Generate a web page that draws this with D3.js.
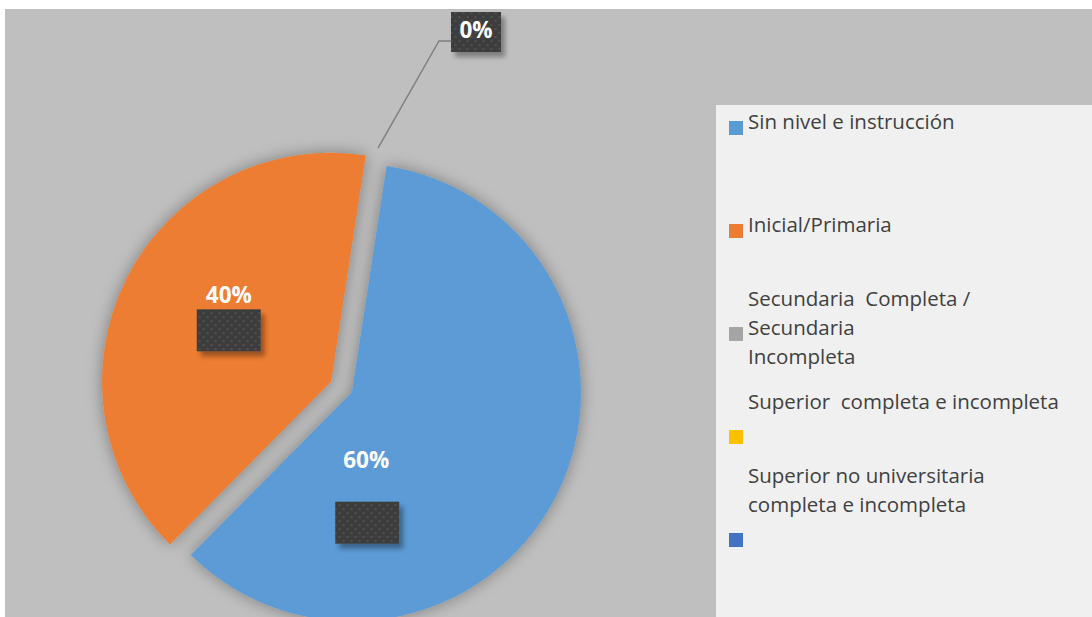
<!DOCTYPE html>
<html>
<head>
<meta charset="utf-8">
<script src="https://cdn.jsdelivr.net/npm/d3@7"></script>
<style>
  html, body { margin: 0; padding: 0; background: #ffffff; }
  svg { display: block; }
</style>
</head>
<body>
<svg id="chart" width="1092" height="617"></svg>
<script>
const categories = [
    "Sin nivel e instrucción",
    "Inicial/Primaria",
    "Secundaria  Completa / Secundaria Incompleta",
    "Superior  completa e incompleta",
    "Superior no universitaria completa e incompleta"
];
const values = [60, 40, 0, 0, 0];
const colors = ["#5b9bd5", "#ed7d31", "#a5a5a5", "#ffc000", "#4472c4"];

// how the legend text wraps, as in the original
const legendLines = [
    ["Sin nivel e instrucción"],
    ["Inicial/Primaria"],
    ["Secundaria  Completa /", "Secundaria", "Incompleta"],
    ["Superior  completa e incompleta", ""],
    ["Superior no universitaria", "completa e incompleta", ""]
];
// which wrapped line sits beside the colour square
const legendAnchor = [0, 0, 1, 1, 2];

const svg = d3.select("#chart");
const width = +svg.attr("width");
const height = +svg.attr("height");

const defs = svg.append("defs");

const shadow = defs.append("filter").attr("id", "pieShadow")
    .attr("x", "-20%").attr("y", "-20%").attr("width", "140%").attr("height", "140%");
shadow.append("feGaussianBlur").attr("in", "SourceAlpha").attr("stdDeviation", 8).attr("result", "blur");
shadow.append("feFlood").attr("flood-color", "#000").attr("flood-opacity", 0.35);
shadow.append("feComposite").attr("in2", "blur").attr("operator", "in").attr("result", "sh");
const m1 = shadow.append("feMerge");
m1.append("feMergeNode").attr("in", "sh");
m1.append("feMergeNode").attr("in", "SourceGraphic");

const boxShadow = defs.append("filter").attr("id", "boxShadow")
    .attr("x", "-30%").attr("y", "-30%").attr("width", "170%").attr("height", "170%");
boxShadow.append("feGaussianBlur").attr("in", "SourceAlpha").attr("stdDeviation", 2.5).attr("result", "blur");
boxShadow.append("feOffset").attr("in", "blur").attr("dx", 4).attr("dy", 5).attr("result", "off");
boxShadow.append("feFlood").attr("flood-color", "#000").attr("flood-opacity", 0.35);
boxShadow.append("feComposite").attr("in2", "off").attr("operator", "in").attr("result", "sh");
const m2 = boxShadow.append("feMerge");
m2.append("feMergeNode").attr("in", "sh");
m2.append("feMergeNode").attr("in", "SourceGraphic");

const dots = defs.append("pattern").attr("id", "dots")
    .attr("patternUnits", "userSpaceOnUse").attr("width", 8).attr("height", 8);
dots.append("rect").attr("width", 8).attr("height", 8).attr("fill", "#3e3e3e");
dots.append("circle").attr("cx", 2).attr("cy", 2).attr("r", 0.9).attr("fill", "#575757");
dots.append("circle").attr("cx", 6).attr("cy", 6).attr("r", 0.9).attr("fill", "#575757");

// chart area and legend panel
svg.append("rect").attr("x", 5).attr("y", 9)
    .attr("width", width - 5).attr("height", height - 9).attr("fill", "#bfbfbf");
svg.append("rect").attr("x", 716).attr("y", 105)
    .attr("width", width - 716).attr("height", height - 105).attr("fill", "#f0f0f0");

// pie
const cx = 341.5, cy = 387, radius = 229, explode = 11.7;
const rotation = 8.7 * Math.PI / 180;
const total = d3.sum(values);
const fmt = d3.format(".0%");

const pie = d3.pie().sort(null).value(d => d)
    .startAngle(rotation).endAngle(rotation + 2 * Math.PI);
const arcs = pie(values);
const arc = d3.arc().innerRadius(0).outerRadius(radius);

function offsetOf(d) {
    if (d.value === 0) return [0, 0];
    const mid = (d.startAngle + d.endAngle) / 2;
    return [explode * Math.sin(mid), -explode * Math.cos(mid)];
}

const pieG = svg.append("g").attr("transform", `translate(${cx},${cy})`);

pieG.append("g").attr("filter", "url(#pieShadow)")
    .selectAll("path")
    .data(arcs.filter(d => d.value > 0))
    .enter().append("path")
    .attr("transform", d => `translate(${offsetOf(d)})`)
    .attr("d", arc)
    .attr("fill", d => colors[d.index]);

// data labels: box and text shifts from the slice centroid (labels were moved by hand)
const boxShift = { 0: [-87, 79], 1: [0, 0] };
const textShift = { 0: [-88, 24], 1: [0, -27] };

const labelFont = 22.5;
const labelG = pieG.append("g");
arcs.filter(d => d.value > 0).forEach(d => {
    const o = offsetOf(d);
    const c = arc.centroid(d);
    const bx = c[0] + o[0] + boxShift[d.index][0];
    const by = c[1] + o[1] + boxShift[d.index][1];
    labelG.append("rect")
        .attr("x", bx - 32).attr("y", by - 21)
        .attr("width", 64).attr("height", 42)
        .attr("fill", "url(#dots)")
        .attr("filter", "url(#boxShadow)");
    labelG.append("text")
        .attr("x", c[0] + o[0] + textShift[d.index][0])
        .attr("y", c[1] + o[1] + textShift[d.index][1])
        .attr("text-anchor", "middle")
        .attr("font-family", "'Open Sans', sans-serif")
        .attr("font-weight", "bold")
        .attr("font-size", labelFont)
        .attr("fill", "#ffffff")
        .text(fmt(d.value / total));
});

// zero slice label with a leader line
const zero = arcs.find(d => d.value === 0);
const zAngle = zero.startAngle;
const lineStart = [(radius + 13) * Math.sin(zAngle), -(radius + 13) * Math.cos(zAngle)];
const elbow = [439 - cx, 41 - cy];
const lineEnd = [451 - cx, 41 - cy];
labelG.append("polyline")
    .attr("points", [lineStart, elbow, lineEnd].map(p => p.join(",")).join(" "))
    .attr("fill", "none")
    .attr("stroke", "#808080")
    .attr("stroke-width", 1.5);
labelG.append("rect")
    .attr("x", lineEnd[0]).attr("y", lineEnd[1] - 29)
    .attr("width", 50).attr("height", 40)
    .attr("fill", "url(#dots)")
    .attr("filter", "url(#boxShadow)");
labelG.append("text")
    .attr("x", lineEnd[0] + 25).attr("y", lineEnd[1] - 3)
    .attr("text-anchor", "middle")
    .attr("font-family", "'Open Sans', sans-serif")
    .attr("font-weight", "bold")
    .attr("font-size", labelFont)
    .attr("fill", "#ffffff")
    .text(fmt(zero.value / total));

// legend
const legendY = d3.scalePoint().domain(d3.range(categories.length)).range([128, 540]);
const lineH = 29;

const legend = svg.append("g").selectAll("g")
    .data(categories)
    .enter().append("g")
    .attr("transform", (d, i) => `translate(729,${legendY(i)})`);

legend.append("rect")
    .attr("x", 0).attr("y", -7)
    .attr("width", 14).attr("height", 14)
    .attr("fill", (d, i) => colors[i]);

legend.append("text")
    .attr("font-family", "'Open Sans', sans-serif")
    .attr("font-size", 20.5)
    .attr("fill", "#404040")
    .style("white-space", "pre")
    .each(function(d, i) {
        const t = d3.select(this);
        legendLines[i].forEach((line, k) => {
            t.append("tspan")
                .attr("x", 19)
                .attr("y", (k - legendAnchor[i]) * lineH + 1)
                .text(line);
        });
    });
</script>
</body>
</html>
